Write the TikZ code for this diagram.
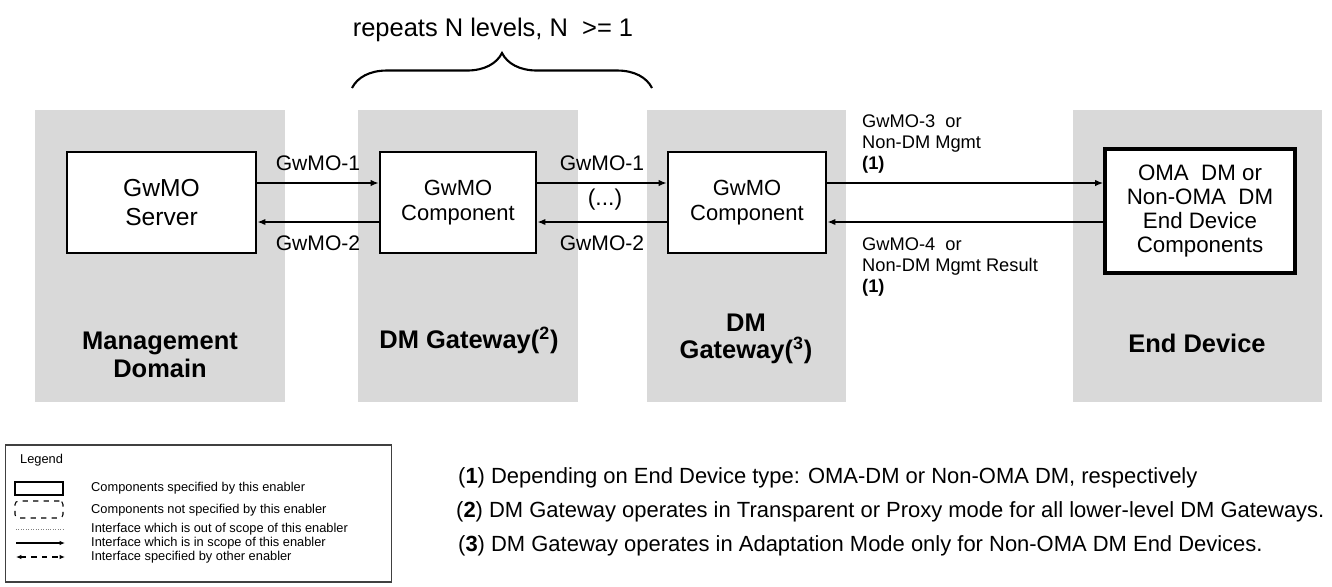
\documentclass[tikz,border=0pt]{standalone}
\usepackage{fontspec}
\setmainfont{Liberation Sans}
\usetikzlibrary{arrows.meta,decorations.pathreplacing}
\definecolor{panelgray}{HTML}{D9D9D9}

\begin{document}
\begin{tikzpicture}[x=0.02cm, y=-0.02cm,
    panel/.style={fill=panelgray, minimum height=5.84cm, inner sep=0pt},
    comp/.style={draw, line width=1.6pt, fill=white, minimum height=2.02cm, inner sep=0pt, align=center},
    plab/.style={font=\bfseries\fontsize{14.5}{15.6}\selectfont, align=center},
    iflab/.style={font=\fontsize{12}{14}\selectfont},
    note/.style={font=\fontsize{10.4}{12.2}\selectfont, align=left, anchor=west},
    flow/.style={-{Latex[length=4.5pt, width=3.6pt]}, line width=0.7pt},
    legtxt/.style={font=\fontsize{7.3}{8}\selectfont, anchor=west},
    foot/.style={font=\fontsize{12.5}{14}\selectfont, anchor=west}]
\useasboundingbox (0, 0) rectangle (1332, 586);

\node[panel, minimum width=5cm] (md) at (160, 256) {};
\node[panel, minimum width=4.4cm] (gw2) at (468, 256) {};
\node[panel, minimum width=3.98cm] (gw3) at (746.5, 256) {};
\node[panel, minimum width=4.98cm] (dev) at (1197.5, 256) {};

\node[font=\fontsize{14.5}{17}\selectfont] (rep) at (493, 30) {repeats N levels, N\ \ >= 1};
\draw[decorate, decoration={brace, amplitude=0.7cm}, line width=1.2pt] (352, 88) -- (652, 88);

\node[comp, minimum width=3.78cm, font=\fontsize{14}{16}\selectfont] (srv) at (161.5, 202.5) {GwMO\\Server};
\node[comp, minimum width=3.12cm, font=\fontsize{12.5}{14.2}\selectfont] (cmp1) at (458, 202.5) {GwMO\\Component};
\node[comp, minimum width=3.16cm, font=\fontsize{12.5}{14.2}\selectfont] (cmp2) at (747, 202.5) {GwMO\\Component};
\node[comp, minimum width=3.8cm, minimum height=2.48cm, line width=2.2pt, font=\fontsize{12.7}{13.6}\selectfont] (edc) at (1200, 211) {OMA\ \ DM or\\Non-OMA\ \ DM\\End Device\\Components};

\draw ([yshift=0.39cm]srv.east) edge[flow] node[iflab, yshift=0.4cm] {GwMO-1} ([yshift=0.39cm]cmp1.west);
\draw ([yshift=-0.39cm]cmp1.west) edge[flow, line width=1.1pt] node[iflab, yshift=-0.42cm] {GwMO-2} ([yshift=-0.39cm]srv.east);
\draw ([yshift=0.39cm]cmp1.east) edge[flow] node[iflab, yshift=0.4cm] {GwMO-1} ([yshift=0.39cm]cmp2.west);
\draw ([yshift=-0.39cm]cmp2.west) edge[flow, line width=1.1pt] node[iflab, yshift=-0.42cm] {GwMO-2} ([yshift=-0.39cm]cmp1.east);
\node[font=\fontsize{13}{15}\selectfont] (dots) at (605, 200) {(...)};

\draw ([yshift=0.39cm]cmp2.east) edge[flow] ([yshift=0.39cm]cmp2.east -| edc.west);
\draw ([yshift=-0.39cm]cmp2.east -| edc.west) edge[flow, line width=1.1pt] ([yshift=-0.39cm]cmp2.east);
\node[note] (m3) at (856, 144) {GwMO-3\ \ or\\Non-DM Mgmt\\\textbf{(1)}};
\node[note] (m4) at (856, 267) {GwMO-4\ \ or\\Non-DM Mgmt Result\\\textbf{(1)}};

\node[plab] (mdl) at (160, 355) {Management\\Domain};
\node[plab] (gw2l) at (469, 340) {DM Gateway(\textsuperscript{2})};
\node[plab] (gw3l) at (746, 339) {DM\\Gateway(\textsuperscript{3})};
\node[plab] (devl) at (1197, 343) {End Device};

\node[draw=darkgray, line width=0.6pt, minimum width=7.74cm, minimum height=2.74cm] (leg) at (198.5, 513.5) {};
\node[legtxt] (legt) at (14, 460) {Legend};
\node[draw, line width=0.6pt, minimum width=0.96cm, minimum height=0.26cm] (smp1) at (39, 488.5) {};
\node[draw, dashed, line width=0.6pt, rounded corners=2pt, minimum width=0.96cm, minimum height=0.34cm] (smp2) at (39, 509.5) {};
\coordinate (l1a) at (16, 529);
\coordinate (l1b) at (65, 529);
\coordinate (l2a) at (16, 543);
\coordinate (l2b) at (65, 543);
\coordinate (l3a) at (16, 557);
\coordinate (l3b) at (65, 557);
\draw[gray, densely dotted, line width=0.4pt] (l1a) -- (l1b);
\draw[-{Latex[length=3pt, width=2.5pt]}, line width=0.8pt] (l2a) -- (l2b);
\draw[{Latex[length=3pt, width=2.5pt]}-{Latex[length=3pt, width=2.5pt]}, dashed, line width=0.8pt] (l3a) -- (l3b);
\node[legtxt] (lt1) at (85, 488) {Components specified by this enabler};
\node[legtxt] (lt2) at (85, 510) {Components not specified by this enabler};
\node[legtxt] (lt3) at (85, 529) {Interface which is out of scope of this enabler};
\node[legtxt] (lt4) at (85, 543) {Interface which is in scope of this enabler};
\node[legtxt] (lt5) at (85, 557) {Interface specified by other enabler};

\node[foot] (f1) at (452, 478) {(\textbf{1}) Depending on End Device type: OMA-DM or Non-OMA DM, respectively};
\node[foot] (f2) at (450, 512) {(\textbf{2}) DM Gateway operates in Transparent or Proxy mode for all lower-level DM Gateways.};
\node[foot] (f3) at (452, 546) {(\textbf{3}) DM Gateway operates in Adaptation Mode only for Non-OMA DM End Devices.};

\end{tikzpicture}
\end{document}
